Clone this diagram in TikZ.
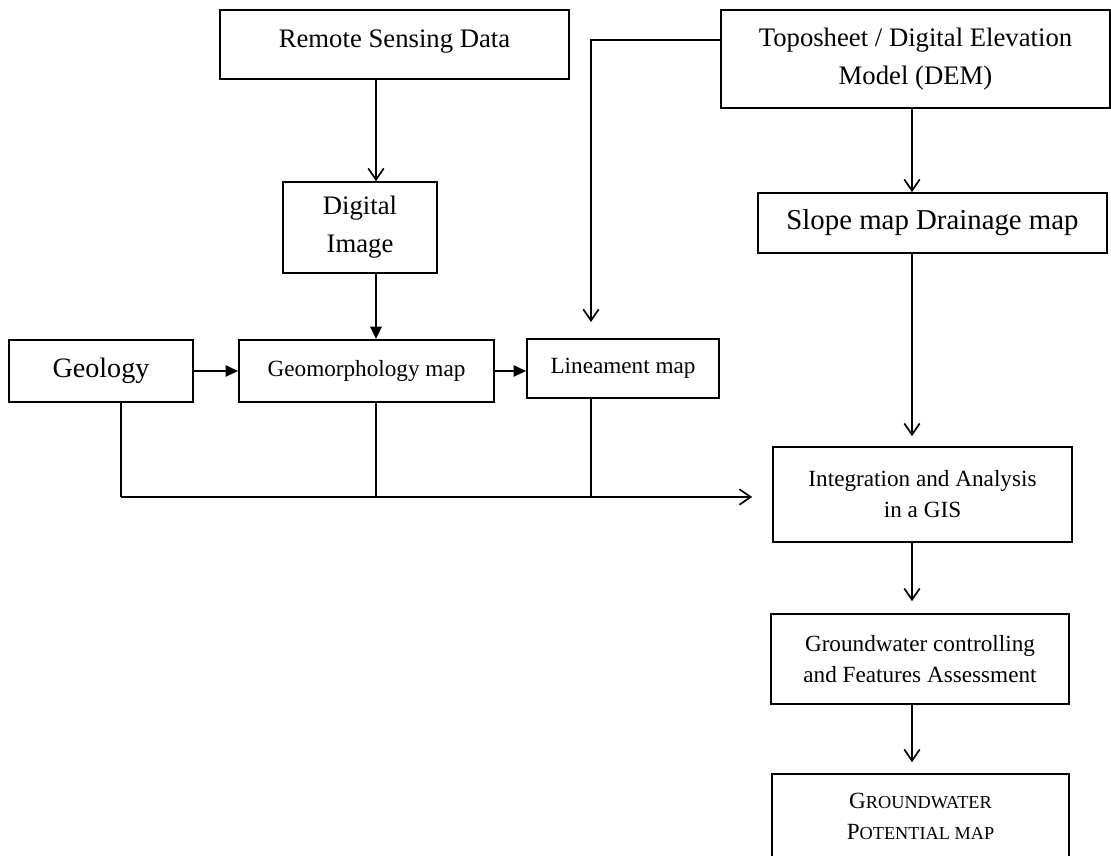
\documentclass[tikz,border=0pt]{standalone}
\usepackage{fontspec}
\setmainfont{Liberation Serif}
\usetikzlibrary{arrows.meta, positioning, calc}

\begin{document}
\begin{tikzpicture}[
  box/.style={draw, line width=1.2pt, align=center, inner sep=2pt, font=\fontsize{19}{27}\selectfont},
  smallbox/.style={box, font=\fontsize{16.5}{22}\selectfont},
  flow/.style={line width=1.2pt, -{Straight Barb[length=8pt, width=11pt, line width=1.2pt]}},
  bold/.style={line width=1.3pt, -{Triangle[length=9pt, width=8pt]}},
  link/.style={line width=1.2pt}
]
  \useasboundingbox (0,0) rectangle (27.775,-21.4);

  % Arrow columns
  \coordinate (colL) at (9.4,0);
  \coordinate (colR) at (22.8,0);

  % Remote sensing side
  \node[box, minimum width=8.725cm, minimum height=1.725cm, text depth=0.3cm] (rsd) at (9.8625,-1.1125) {Remote Sensing Data};
  \node[box, minimum width=3.85cm, minimum height=2.275cm] (dimg) at (9.0,-5.6875) {Digital\\Image};

  % Map row
  \node[box, minimum width=4.6cm, minimum height=1.55cm, font=\fontsize{20}{27}\selectfont] (geol) at (2.525,-9.275) {Geology};
  \node[smallbox, minimum width=6.375cm, minimum height=1.55cm] (geom) at (9.1625,-9.275) {Geomorphology map};
  \node[smallbox, minimum width=4.8cm, minimum height=1.475cm] (lin) at (15.575,-9.2125) {Lineament map};

  % Toposheet side
  \node[box, minimum width=9.725cm, minimum height=2.45cm] (topo) at (22.8875,-1.475) {Toposheet / Digital Elevation\\Model (DEM)};
  \node[box, minimum width=8.725cm, minimum height=1.5cm, font=\fontsize{20.5}{27}\selectfont] (slope) at (23.3125,-5.575) {Slope map Drainage map};

  % Analysis chain
  \node[smallbox, minimum width=7.475cm, minimum height=2.375cm] (integ) at (23.0625,-12.3625) {Integration and Analysis\\in a GIS};
  \node[smallbox, minimum width=7.45cm, minimum height=2.25cm] (gwc) at (23.0,-16.475) {Groundwater controlling\\and Features Assessment};
  \node[smallbox, minimum width=7.425cm, minimum height=2.6cm, text depth=0.5cm] (gwp) at (23.0125,-20.65)
    {G{\fontsize{13}{22}\selectfont ROUNDWATER}\\P{\fontsize{13}{22}\selectfont OTENTIAL MAP}};

  % Left arrows
  \draw[flow] (rsd.south -| colL) -- (dimg.north -| colL);
  \draw[bold, line width=2pt] (dimg.south -| colL) -- (geom.north -| colL);
  \draw[bold] (geol) -- (geom);
  \draw[bold] (geom.east) -- (geom.east -| lin.west);

  % Toposheet to lineament
  \coordinate (linin) at (14.775,-8.05);
  \draw[flow] ($(topo.north west)!0.31!(topo.south west)$) -| (linin);

  % Collector line into the GIS
  \coordinate (bus) at (3.025,-12.425);
  \draw[link] (geol.south -| bus) -- (bus);
  \draw[link] (geom.south -| colL) -- (bus -| colL);
  \draw[link] (lin.south -| linin) -- (bus -| linin);
  \draw[flow, shorten >=0.5cm] (bus) -- (bus -| integ.west);

  % Right arrows
  \draw[flow] (topo.south -| colR) -- (slope.north -| colR);
  \draw[flow, shorten >=0.25cm] (slope.south -| colR) -- (integ.north -| colR);
  \draw[flow, shorten >=0.3cm] (integ.south -| colR) -- (gwc.north -| colR);
  \draw[flow, shorten >=0.275cm] (gwc.south -| colR) -- (gwp.north -| colR);
\end{tikzpicture}
\end{document}
